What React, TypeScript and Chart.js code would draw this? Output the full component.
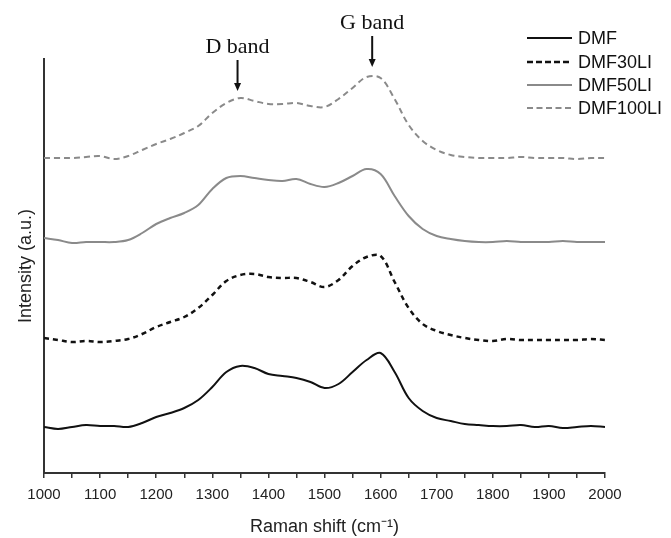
import React, { useEffect, useRef } from "react";
import { Chart, registerables } from "chart.js";

Chart.register(...registerables);

// Raman shift (cm-1) sample positions
const ramanShift = [
  1000, 1025, 1050, 1075, 1100, 1125, 1150, 1175, 1200, 1225, 1250, 1275, 1300, 1325, 1350, 1375, 1400,
  1425, 1450, 1475, 1500, 1525, 1550, 1575, 1600, 1625, 1650, 1675, 1700, 1725, 1750, 1775, 1800, 1825,
  1850, 1875, 1900, 1925, 1950, 1975, 2000,
];

// Intensities (a.u., stacked offsets as in the figure)
const dmf = [
  46, 44, 46, 48, 47, 47, 46, 50, 56, 60, 65, 73, 86, 101, 107, 105, 99, 97, 95, 91, 85, 89, 101, 113, 120,
  101, 75, 62, 55, 52, 49, 48, 47, 47, 48, 46, 47, 45, 46, 47, 46,
];
const dmf30li = [
  135, 133, 131, 132, 131, 132, 134, 139, 146, 151, 156, 165, 178, 192, 198, 199, 196, 195, 195, 191, 186,
  193, 207, 216, 217, 191, 165, 149, 142, 138, 135, 133, 132, 134, 133, 133, 133, 133, 133, 134, 133,
];
const dmf50li = [
  235, 233, 230, 231, 231, 231, 233, 240, 249, 255, 260, 268, 284, 295, 297, 295, 293, 292, 294, 289, 286,
  290, 297, 304, 299, 277, 257, 244, 237, 234, 232, 231, 231, 232, 231, 231, 231, 232, 231, 231, 231,
];
const dmf100li = [
  315, 315, 315, 316, 317, 314, 317, 323, 329, 334, 340, 347, 360, 370, 375, 372, 369, 369, 370, 367, 366,
  374, 385, 396, 395, 374, 348, 332, 323, 318, 316, 315, 315, 315, 316, 315, 315, 315, 314, 315, 315,
];

const seriesNames = ["DMF", "DMF30LI", "DMF50LI", "DMF100LI"];
const seriesValues = [dmf, dmf30li, dmf50li, dmf100li];
const seriesColors = ["#111111", "#111111", "#8a8a8a", "#8a8a8a"];
const seriesDashes: number[][] = [[], [5, 4], [], [6, 4]];
const seriesWidths = [2, 2.5, 2, 2];

// Band annotations
const bandLabels = ["D band", "G band"];
const bandShifts = [1345, 1585];
const bandPeaks = [375, 399];

const annotationPlugin = {
  id: "bandsAndLegend",
  afterDraw(chart: any) {
    const ctx = chart.ctx as CanvasRenderingContext2D;
    const xs = chart.scales.x;
    const ys = chart.scales.y;
    ctx.save();
    // band arrows + labels
    for (let i = 0; i < bandLabels.length; i++) {
      const x = xs.getPixelForValue(bandShifts[i]);
      const tip = ys.getPixelForValue(bandPeaks[i]) - 7;
      const top = tip - 31;
      ctx.strokeStyle = "#111";
      ctx.fillStyle = "#111";
      ctx.lineWidth = 2;
      ctx.setLineDash([]);
      ctx.beginPath();
      ctx.moveTo(x, top);
      ctx.lineTo(x, tip - 6);
      ctx.stroke();
      ctx.beginPath();
      ctx.moveTo(x - 3.5, tip - 8);
      ctx.lineTo(x + 3.5, tip - 8);
      ctx.lineTo(x, tip);
      ctx.closePath();
      ctx.fill();
      ctx.font = "22px 'Liberation Serif', 'Times New Roman', serif";
      ctx.textAlign = "center";
      ctx.textBaseline = "alphabetic";
      ctx.fillText(bandLabels[i], x, top - 7);
    }
    // legend
    const lx0 = 527;
    const lx1 = 572;
    const rowY = [38, 62, 85, 108];
    ctx.font = "18px 'Liberation Sans', Arial, sans-serif";
    ctx.textAlign = "left";
    ctx.textBaseline = "middle";
    for (let i = 0; i < seriesNames.length; i++) {
      ctx.strokeStyle = seriesColors[i];
      ctx.lineWidth = seriesWidths[i];
      ctx.setLineDash(i === 1 ? [6, 3] : i === 3 ? [6, 3.5] : []);
      ctx.beginPath();
      ctx.moveTo(lx0, rowY[i]);
      ctx.lineTo(lx1, rowY[i]);
      ctx.stroke();
      ctx.setLineDash([]);
      ctx.fillStyle = "#111";
      ctx.fillText(seriesNames[i], 578, rowY[i] + 1);
    }
    ctx.restore();
  },
};

export default function App() {
  const ref = useRef<HTMLCanvasElement | null>(null);
  useEffect(() => {
    if (!ref.current) return;
    const chart = new Chart(ref.current, {
      type: "line",
      data: {
        datasets: seriesNames.map((name, i) => ({
          label: name,
          data: ramanShift.map((x, j) => ({ x, y: seriesValues[i][j] })),
          borderColor: seriesColors[i],
          borderWidth: seriesWidths[i],
          borderDash: seriesDashes[i],
          pointRadius: 0,
          tension: 0.35,
          fill: false,
        })),
      },
      options: {
        responsive: false,
        animation: false,
        layout: { padding: { top: 59, right: 66, left: 0, bottom: 0 } },
        plugins: { legend: { display: false }, tooltip: { enabled: false } },
        scales: {
          x: {
            type: "linear",
            min: 1000,
            max: 2000,
            afterFit: (s: any) => {
              s.height = 65;
            },
            ticks: {
              stepSize: 50,
              autoSkip: false,
              maxRotation: 0,
              padding: 8,
              color: "#222",
              font: { family: "'Liberation Sans', Arial, sans-serif", size: 15 },
              callback: (v: any) => (Number(v) % 100 === 0 ? String(v) : ""),
            },
            grid: {
              display: true,
              drawOnChartArea: false,
              drawTicks: true,
              tickLength: 5,
              color: "#333",
              lineWidth: 1.5,
            },
            border: { display: true, color: "#333", width: 2 },
            title: {
              display: true,
              text: "Raman shift (cm⁻¹)",
              color: "#222",
              font: { family: "'Liberation Sans', Arial, sans-serif", size: 18 },
              padding: { top: 0, bottom: 0 },
            },
          },
          y: {
            min: 0,
            max: 414,
            afterFit: (s: any) => {
              s.width = 44;
            },
            ticks: { display: false },
            grid: { display: true, drawOnChartArea: false, drawTicks: false },
            border: { display: true, color: "#333", width: 2 },
            title: {
              display: true,
              text: "Intensity (a.u.)",
              color: "#222",
              font: { family: "'Liberation Sans', Arial, sans-serif", size: 18 },
              padding: { top: 15, bottom: 0 },
            },
          },
        },
      },
      plugins: [annotationPlugin],
    });
    return () => chart.destroy();
  }, []);
  return (
    <div style={{ position: "fixed", left: 0, top: 0, width: 671, height: 538, background: "#fff" }}>
      <canvas ref={ref} width={671} height={538} style={{ width: 671, height: 538 }} />
    </div>
  );
}
